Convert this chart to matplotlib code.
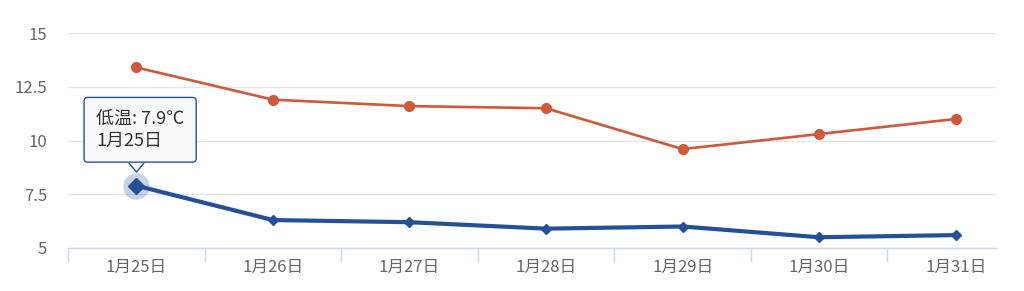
import matplotlib.pyplot as plt
from matplotlib.path import Path
from matplotlib.ticker import FixedLocator
from matplotlib.transforms import offset_copy

plt.rcParams['font.family'] = ['Noto Sans CJK SC', 'DejaVu Sans']

days = ['1月25日', '1月26日', '1月27日', '1月28日', '1月29日', '1月30日', '1月31日']
high = [13.4, 11.9, 11.6, 11.5, 9.6, 10.3, 11.0]
low = [7.9, 6.3, 6.2, 5.9, 6.0, 5.5, 5.6]
yticks = [5, 7.5, 10, 12.5, 15]

red = '#d0583b'
blue = '#24509a'
x = list(range(len(days)))

fig = plt.figure(figsize=(10.24, 2.91), dpi=100)
ax = fig.add_axes([68/1024, 1 - 248/291, (996-68)/1024, (248-33)/291])

# last category band is cut off by the plot area (as in the original)
ax.set_xlim(-0.5, len(days) - 0.705)
ax.set_ylim(5, 15)

# grid + axis
for v in yticks:
    ax.axhline(v, color='#e6e6e6', lw=1, zorder=0)
for s in ['top', 'right', 'left']:
    ax.spines[s].set_visible(False)
ax.spines['bottom'].set_color('#ccd6eb')
ax.spines['bottom'].set_linewidth(1)

ax.set_xticks(x)
ax.set_xticklabels(days)
ax.xaxis.set_minor_locator(FixedLocator([i - 0.5 for i in range(len(days))]))
ax.tick_params(axis='x', which='major', length=0, pad=8, labelsize=12, labelcolor='#666666')
ax.tick_params(axis='x', which='minor', length=10, color='#ccd6eb', width=1)
ax.set_yticks(yticks)
ax.set_yticklabels(['5', '7.5', '10', '12.5', '15'])
ax.tick_params(axis='y', length=0, pad=15, labelsize=12, labelcolor='#666666')

# series
ax.plot(x, high, color=red, lw=1.9, marker='o', ms=7, zorder=3)
ax.plot(x, low, color=blue, lw=3, marker='D', ms=5, zorder=4)

# hover state on first low point
ax.plot(x[0], low[0], marker='o', ms=19, color='#24509a', alpha=0.25, mec='none', zorder=3)
ax.plot(x[0], low[0], marker='D', ms=8.5, color=blue, zorder=5)

# tooltip
ax.annotate('低温: 7.9℃\n1月25日', xy=(x[0], low[0]), xytext=(-29, 25.5), textcoords='offset points',
            ha='left', va='bottom', fontsize=13, color='#333333', linespacing=1.35,
            bbox=dict(boxstyle='round,pad=0.66,rounding_size=0.2', fc='#f9f9f9', ec=blue, lw=1),
            zorder=6)
ptr = Path([(-1, 0.6), (0, -0.6), (1, 0.6)], [Path.MOVETO, Path.LINETO, Path.LINETO])
ax.plot(x[0], low[0], marker=ptr, ms=11, mfc='#f9f9f9', mec=blue, mew=1, zorder=7,
        transform=offset_copy(ax.transData, fig=fig, x=0, y=13.5, units='points'))

fig.savefig('out.png', dpi=100)
